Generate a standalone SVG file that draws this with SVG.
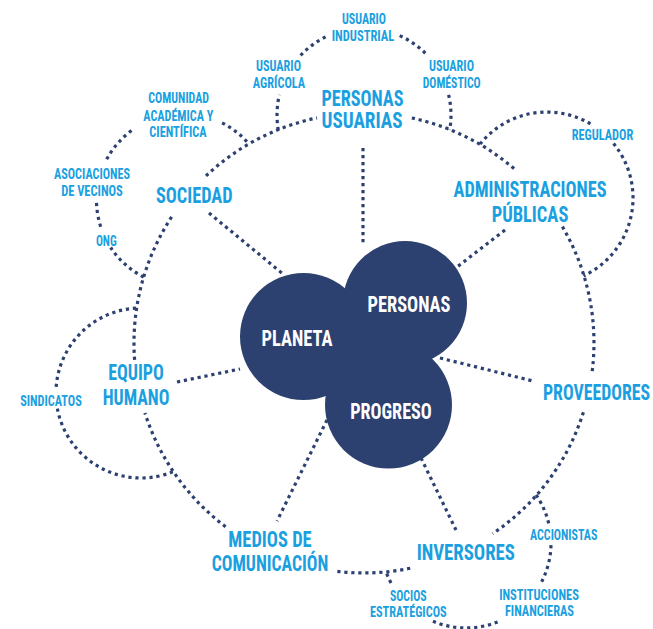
<svg xmlns="http://www.w3.org/2000/svg" width="653" height="629" viewBox="0 0 653 629">
<style>
.dot{fill:none;stroke:#2d4170;stroke-width:3.2;stroke-dasharray:3.2 3.8;}
.lbl{font-family:"Liberation Sans Narrow","Roboto Condensed","DejaVu Sans Condensed","Liberation Sans",sans-serif;font-weight:700;fill:#1a9fe0;text-anchor:middle;}
.big{font-size:22px;}
.sm{font-size:15px;}
.ctr{fill:#ffffff;}
.blob{fill:#2d4170;}
</style>
<rect width="653" height="629" fill="#ffffff"/>
<g id="connectors">
  <!-- main ring -->
  <path class="dot" d="M411.8 118 A230 230 0 0 1 516.4 170.7"/>
  <path class="dot" d="M562.4 226.6 A230 230 0 0 1 592 373"/>
  <path class="dot" d="M583.4 412.2 A230 230 0 0 1 492.6 533.7"/>
  <path class="dot" d="M410.2 568.3 A230 230 0 0 1 334.8 571.1"/>
  <path class="dot" d="M225.6 526.7 A230 230 0 0 1 144.9 412.9"/>
  <path class="dot" d="M134.6 359.8 A230 230 0 0 1 172.9 215"/>
  <path class="dot" d="M206 175.9 A230 230 0 0 1 317 117.9"/>
  <!-- personas usuarias sub-ring -->
  <path class="dot" d="M278.3 130 A87 87 0 0 1 279.4 94.8"/>
  <path class="dot" d="M300.6 55.4 A87 87 0 0 1 326.7 36.4"/>
  <path class="dot" d="M399.7 35.6 A87 87 0 0 1 427 55"/>
  <path class="dot" d="M448.6 94.8 A87 87 0 0 1 449.7 130"/>
  <!-- sociedad sub-ring -->
  <path class="dot" d="M222.1 122.9 A86.5 86.5 0 0 1 248.8 143.8"/>
  <path class="dot" d="M106.7 159.3 A86.5 86.5 0 0 1 132.8 129.6"/>
  <path class="dot" d="M100.7 226.7 A86.5 86.5 0 0 1 96.5 202"/>
  <path class="dot" d="M143.7 277.1 A86.5 86.5 0 0 1 110.7 247.5"/>
  <!-- administraciones sub-ring -->
  <path class="dot" d="M480 144.1 A86 86 0 0 1 590.6 123.9"/>
  <path class="dot" d="M613.6 143.6 A86 86 0 0 1 583.5 275.9"/>
  <!-- equipo humano sub-ring -->
  <path class="dot" d="M56.2 386.9 A85 85 0 0 1 136.6 308.1"/>
  <path class="dot" d="M172.8 471.8 A85 85 0 0 1 57.3 408.1"/>
  <!-- inversores sub-ring -->
  <path class="dot" d="M536.1 494.9 A85 85 0 0 1 549 524.7"/>
  <path class="dot" d="M551 545.1 A85 85 0 0 1 539.9 585"/>
  <path class="dot" d="M497.6 621.9 A85 85 0 0 1 431.2 620.5"/>
  <path class="dot" d="M391 582.9 A85 85 0 0 1 385.8 571.1"/>
  <!-- spokes -->
  <path class="dot" d="M363 148 L363 246"/>
  <path class="dot" d="M209 213 L283 274"/>
  <path class="dot" d="M505 230 L457 267"/>
  <path class="dot" d="M440 358 L533 381"/>
  <path class="dot" d="M421 458 L456 530"/>
  <path class="dot" d="M327 420 L277 521"/>
  <path class="dot" d="M177 382 L240 369"/>
</g>
<g id="core">
  <polygon class="blob" points="303.5,336.5 405,303 388.5,405"/>
  <g id="planeta">
    <circle class="blob" cx="303.5" cy="336.5" r="63.5"/>
    <text class="lbl big ctr" x="297" y="346" textLength="71" lengthAdjust="spacingAndGlyphs">PLANETA</text>
  </g>
  <g id="personas">
    <circle class="blob" cx="405" cy="303" r="62"/>
    <text class="lbl big ctr" x="409" y="311.7" textLength="83" lengthAdjust="spacingAndGlyphs">PERSONAS</text>
  </g>
  <g id="progreso">
    <circle class="blob" cx="388.5" cy="405" r="63.5"/>
    <text class="lbl big ctr" x="391" y="419.3" textLength="81.7" lengthAdjust="spacingAndGlyphs">PROGRESO</text>
  </g>
</g>
<g id="personas-usuarias">
  <text class="lbl big" x="362.5" y="106" textLength="82" lengthAdjust="spacingAndGlyphs">PERSONAS</text>
  <text class="lbl big" x="362" y="128" textLength="81" lengthAdjust="spacingAndGlyphs">USUARIAS</text>
</g>
<g id="usuario-industrial">
  <text class="lbl sm" x="364" y="24" textLength="44" lengthAdjust="spacingAndGlyphs">USUARIO</text>
  <text class="lbl sm" x="363" y="41.3" textLength="62.6" lengthAdjust="spacingAndGlyphs">INDUSTRIAL</text>
</g>
<g id="usuario-agricola">
  <text class="lbl sm" x="278.5" y="71" textLength="45" lengthAdjust="spacingAndGlyphs">USUARIO</text>
  <text class="lbl sm" x="279" y="87.7" textLength="52.3" lengthAdjust="spacingAndGlyphs">AGRÍCOLA</text>
</g>
<g id="usuario-domestico">
  <text class="lbl sm" x="451.5" y="71" textLength="45" lengthAdjust="spacingAndGlyphs">USUARIO</text>
  <text class="lbl sm" x="451.7" y="87.7" textLength="58" lengthAdjust="spacingAndGlyphs">DOMÉSTICO</text>
</g>
<g id="sociedad">
  <text class="lbl big" x="194.3" y="202.7" textLength="76.7" lengthAdjust="spacingAndGlyphs">SOCIEDAD</text>
</g>
<g id="comunidad">
  <text class="lbl sm" x="178.7" y="103.3" textLength="60.7" lengthAdjust="spacingAndGlyphs">COMUNIDAD</text>
  <text class="lbl sm" x="178.3" y="120.7" textLength="70" lengthAdjust="spacingAndGlyphs">ACADÉMICA Y</text>
  <text class="lbl sm" x="178" y="137.3" textLength="57.4" lengthAdjust="spacingAndGlyphs">CIENTÍFICA</text>
</g>
<g id="asociaciones">
  <text class="lbl sm" x="92" y="179.3" textLength="76" lengthAdjust="spacingAndGlyphs">ASOCIACIONES</text>
  <text class="lbl sm" x="92" y="196" textLength="61.7" lengthAdjust="spacingAndGlyphs">DE VECINOS</text>
</g>
<g id="ong">
  <text class="lbl sm" x="106.3" y="246" textLength="20.7" lengthAdjust="spacingAndGlyphs">ONG</text>
</g>
<g id="administraciones">
  <text class="lbl big" x="530" y="197.3" textLength="153" lengthAdjust="spacingAndGlyphs">ADMINISTRACIONES</text>
  <text class="lbl big" x="530" y="221.7" textLength="76.7" lengthAdjust="spacingAndGlyphs">PÚBLICAS</text>
</g>
<g id="regulador">
  <text class="lbl sm" x="602.5" y="140" textLength="61.7" lengthAdjust="spacingAndGlyphs">REGULADOR</text>
</g>
<g id="proveedores">
  <text class="lbl big" x="650" y="400" style="text-anchor:end" textLength="107" lengthAdjust="spacingAndGlyphs">PROVEEDORES</text>
</g>
<g id="inversores">
  <text class="lbl big" x="465.8" y="560" textLength="98.3" lengthAdjust="spacingAndGlyphs">INVERSORES</text>
</g>
<g id="accionistas">
  <text class="lbl sm" x="563.7" y="540" textLength="67.3" lengthAdjust="spacingAndGlyphs">ACCIONISTAS</text>
</g>
<g id="instituciones">
  <text class="lbl sm" x="539" y="600" textLength="79.7" lengthAdjust="spacingAndGlyphs">INSTITUCIONES</text>
  <text class="lbl sm" x="539.5" y="616" textLength="69" lengthAdjust="spacingAndGlyphs">FINANCIERAS</text>
</g>
<g id="socios">
  <text class="lbl sm" x="408.3" y="600.7" textLength="36.7" lengthAdjust="spacingAndGlyphs">SOCIOS</text>
  <text class="lbl sm" x="408.3" y="616.5" textLength="76.7" lengthAdjust="spacingAndGlyphs">ESTRATÉGICOS</text>
</g>
<g id="medios">
  <text class="lbl big" x="270" y="546.7" textLength="83.3" lengthAdjust="spacingAndGlyphs">MEDIOS DE</text>
  <text class="lbl big" x="270" y="570.7" textLength="116.7" lengthAdjust="spacingAndGlyphs">COMUNICACIÓN</text>
</g>
<g id="equipo-humano">
  <text class="lbl big" x="136" y="380" textLength="55.7" lengthAdjust="spacingAndGlyphs">EQUIPO</text>
  <text class="lbl big" x="136" y="405" textLength="66.7" lengthAdjust="spacingAndGlyphs">HUMANO</text>
</g>
<g id="sindicatos">
  <text class="lbl sm" x="51" y="406" textLength="61.7" lengthAdjust="spacingAndGlyphs">SINDICATOS</text>
</g>
</svg>
